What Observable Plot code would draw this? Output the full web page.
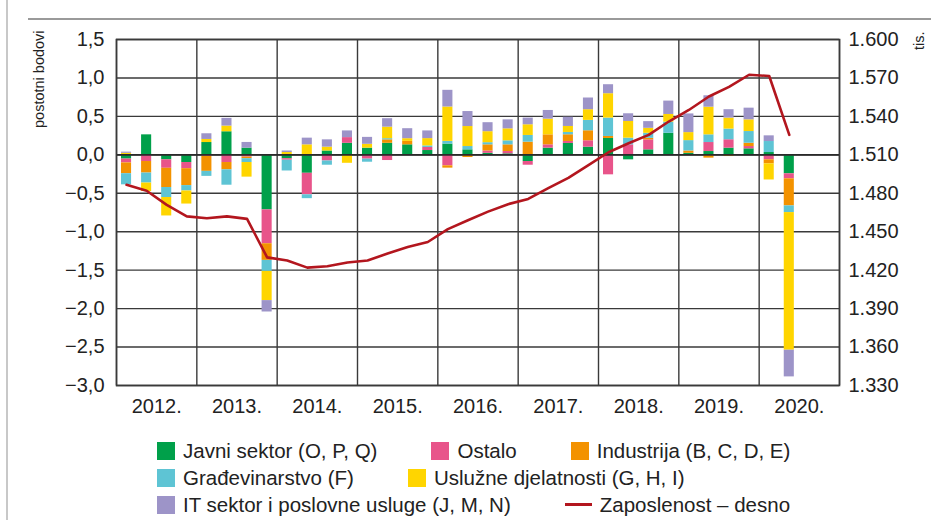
<!DOCTYPE html>
<html>
<head>
<meta charset="utf-8">
<script src="https://cdn.jsdelivr.net/npm/d3@7"></script>
<script src="https://cdn.jsdelivr.net/npm/@observablehq/plot@0.6"></script>
<style>
  html, body { margin: 0; padding: 0; background: #fff; }
  body { width: 931px; height: 520px; position: relative; overflow: hidden; font-family: "Liberation Sans", Arial, sans-serif; color: #222; }
  #chart { position: absolute; left: 0; top: 0; }
  .border-top { position: absolute; left: 28px; top: 18px; width: 903px; height: 0; border-top: 2px solid #9a9a9a; }
  .border-left { position: absolute; left: 6px; top: 0; width: 0; height: 520px; border-left: 2px solid #c8c8c8; }
  .ylab { position: absolute; font-size: 14.5px; white-space: nowrap; transform-origin: 0 0; transform: rotate(-90deg); line-height: 16px; }
  #legend { position: absolute; left: 157px; top: 437px; font-size: 20.5px; }
  .row { display: flex; align-items: center; gap: 54px; height: 27px; }
  .item { display: flex; align-items: center; gap: 8px; white-space: nowrap; }
  .sw { width: 18px; height: 18px; display: inline-block; }
  .ln { width: 27px; height: 3px; display: inline-block; }
</style>
</head>
<body>
<div class="border-left"></div>
<div class="border-top"></div>
<div id="chart"></div>
<div class="ylab" style="left:31px; top:128px;">postotni bodovi</div>
<div class="ylab" style="left:911px; top:50px;">tis.</div>
<div id="legend"></div>
<script>
// ---- Data (quarterly, 2012 Q1 – 2020 Q2) ----
const years = ["2012.", "2013.", "2014.", "2015.", "2016.", "2017.", "2018.", "2019.", "2020."];
const quartersPerYear = 4;

const seriesNames = [
  "Javni sektor (O, P, Q)",
  "Ostalo",
  "Industrija (B, C, D, E)",
  "Građevinarstvo (F)",
  "Uslužne djelatnosti (G, H, I)",
  "IT sektor i poslovne usluge (J, M, N)"
];
const seriesColors = ["#00a04a", "#e8548a", "#f39200", "#5ec4d4", "#ffd500", "#9d94c8"];

const javni = [
  -0.055, 0.26, -0.065, -0.10,
  0.16, 0.30, 0.087, -0.716,
  -0.05, -0.24, 0.05, 0.15,
  0.087, 0.15, 0.13, 0.056,
  0.14, 0.065, 0.02, 0.013,
  -0.087, 0.087, 0.148, 0.10,
  0.213, -0.065, 0.065, 0.28,
  0.02, 0.043, 0.087, 0.078,
  0.03, -0.247
];
const ostalo = [
  -0.05, -0.087, -0.11, -0.08,
  -0.02, -0.10, -0.03, -0.44,
  -0.02, -0.28, -0.08, 0.074,
  -0.056, -0.074, 0.0, 0.04,
  -0.143, 0.0, 0.03, 0.03,
  -0.048, 0.043, 0.026, 0.083,
  -0.26, 0.13, 0.13, 0.0,
  0.0, 0.117, 0.109, 0.03,
  -0.065, -0.065
];
const industrija = [
  -0.14, -0.15, -0.25, -0.22,
  -0.195, -0.095, -0.02, -0.217,
  0.0, 0.0, 0.0, 0.0,
  0.0, 0.045, 0.045, 0.0,
  -0.03, -0.035, 0.08, 0.087,
  0.165, 0.13, 0.087, 0.13,
  0.026, 0.0, 0.02, 0.0,
  0.03, -0.043, -0.022, 0.043,
  -0.052, -0.352
];
const gradjevinarstvo = [
  -0.145, -0.13, -0.13, -0.07,
  -0.065, -0.20, -0.05, -0.143,
  -0.14, -0.05, -0.055, 0.0,
  -0.04, 0.015, 0.0, 0.02,
  0.035, 0.043, 0.028, 0.052,
  0.087, 0.0, 0.03, 0.135,
  0.239, 0.087, 0.065, 0.145,
  0.135, 0.10, 0.139, 0.152,
  0.143, -0.087
];
const usluzne = [
  0.02, -0.11, -0.24, -0.17,
  0.04, 0.074, -0.19, -0.38,
  0.03, 0.13, 0.05, -0.11,
  0.05, 0.15, 0.035, 0.095,
  0.447, 0.26, 0.143, 0.156,
  0.139, 0.204, 0.078, 0.139,
  0.317, 0.217, 0.065, 0.10,
  0.104, 0.36, 0.143, 0.152,
  -0.21, -1.79
];
const itSektor = [
  0.015, 0.0, 0.0, 0.0,
  0.074, 0.10, 0.074, -0.148,
  0.02, 0.087, 0.095, 0.087,
  0.09, 0.11, 0.13, 0.10,
  0.217, 0.195, 0.117, 0.117,
  0.087, 0.113, 0.12, 0.152,
  0.117, 0.10, 0.087, 0.174,
  0.243, 0.148, 0.109, 0.152,
  0.074, -0.347
];
// Zaposlenost (tis.), right axis
const zaposlenost = [
  1486.6, 1482, 1471, 1462,
  1460.5, 1462, 1460, 1430,
  1427.5, 1422, 1423, 1426,
  1427.5, 1433, 1438, 1442,
  1452, 1459, 1465.7, 1471.5,
  1475.6, 1484, 1492, 1502,
  1512, 1519, 1525.6, 1536,
  1545, 1555.5, 1563, 1572.5,
  1571.5, 1525.6
];

const leftTicks = [1.5, 1.0, 0.5, 0.0, -0.5, -1.0, -1.5, -2.0, -2.5, -3.0];
// right axis mapping: left 0 = 1.510 tis., 1 p.p. = 60 tis.
const empAtZero = 1510;
const empPerPoint = 60;

// ---- Build tables ----
const seriesValues = [javni, ostalo, industrija, gradjevinarstvo, usluzne, itSektor];
const rows = [];
seriesValues.forEach((vals, s) => {
  vals.forEach((v, i) => rows.push({i, series: seriesNames[s], value: v}));
});
const empRows = zaposlenost.map((v, i) => ({i, v}));
const nSlots = years.length * quartersPerYear;
const yearBounds = d3.range(0, nSlots + 1, quartersPerYear);
const yearCenters = years.map((y, k) => k * quartersPerYear + quartersPerYear / 2);

const fmtL = v => (v < 0 ? "\u2212" : "") + Math.abs(v).toFixed(1).replace(".", ",");
const fmtR = v => d3.format(",")(Math.round(empAtZero + v * empPerPoint)).replace(",", ".");

const chart = Plot.plot({
  width: 931,
  height: 420,
  marginLeft: 116,
  marginRight: 92,
  marginTop: 39,
  marginBottom: 35,
  style: {fontFamily: "'Liberation Sans', Arial, sans-serif", fontSize: "20px", color: "#222", background: "transparent", overflow: "visible"},
  x: {domain: [0, nSlots], axis: null},
  y: {domain: [-3, 1.5], axis: null},
  color: {domain: seriesNames, range: seriesColors},
  marks: [
    Plot.ruleY(leftTicks, {stroke: "#3a3a3a", strokeWidth: 1.4}),
    Plot.ruleX(yearBounds, {stroke: "#3a3a3a", strokeWidth: 1.4}),
    Plot.rectY(rows, {x: "i", interval: 1, y: "value", fill: "series", insetLeft: 5, insetRight: 5, order: null}),
    Plot.ruleY([0], {stroke: "#2a2a2a", strokeWidth: 1.6}),
    Plot.line(empRows, {x: d => d.i + 0.5, y: d => (d.v - empAtZero) / empPerPoint, stroke: "#b3161e", strokeWidth: 2.6}),
    Plot.frame({stroke: "#3a3a3a", strokeWidth: 1.6}),
    Plot.axisY(leftTicks, {anchor: "left", label: null, tickSize: 0, tickPadding: 12, tickFormat: fmtL, fontSize: 20}),
    Plot.axisY(leftTicks, {anchor: "right", label: null, tickSize: 0, tickPadding: 9, tickFormat: fmtR, fontSize: 20}),
    Plot.axisX(yearCenters, {anchor: "bottom", label: null, tickSize: 0, tickPadding: 13, tickFormat: (d, k) => years[k], fontSize: 20})
  ]
});
document.getElementById("chart").appendChild(chart);

// ---- Legend ----
const legendRows = [
  [{t: "sw", c: 0}, {t: "sw", c: 1}, {t: "sw", c: 2}],
  [{t: "sw", c: 3}, {t: "sw", c: 4}],
  [{t: "sw", c: 5}, {t: "ln", label: "Zaposlenost \u2013 desno", color: "#b3161e"}]
];
const legend = document.getElementById("legend");
legendRows.forEach(r => {
  const row = document.createElement("div");
  row.className = "row";
  r.forEach(it => {
    const item = document.createElement("div");
    item.className = "item";
    const mk = document.createElement("span");
    if (it.t === "sw") {
      mk.className = "sw";
      mk.style.background = seriesColors[it.c];
    } else {
      mk.className = "ln";
      mk.style.background = it.color;
    }
    const tx = document.createElement("span");
    tx.textContent = it.t === "sw" ? seriesNames[it.c] : it.label;
    item.appendChild(mk);
    item.appendChild(tx);
    row.appendChild(item);
  });
  legend.appendChild(row);
});
</script>
</body>
</html>
